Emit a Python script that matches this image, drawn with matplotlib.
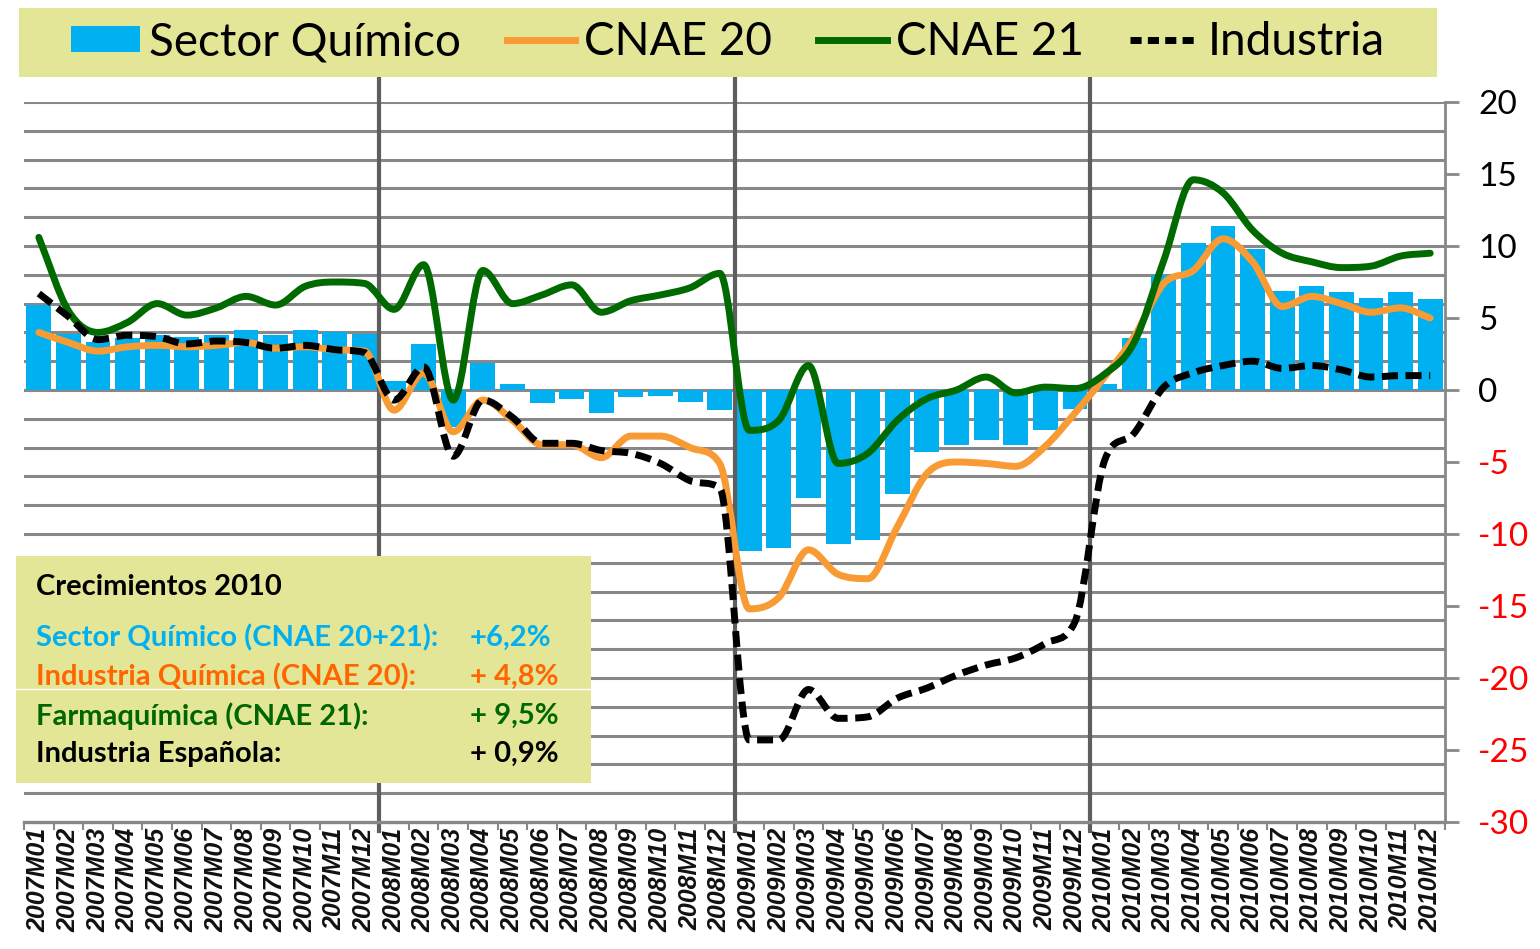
import matplotlib
matplotlib.use('Agg')
import matplotlib.pyplot as plt
from matplotlib.path import Path
from matplotlib.patches import PathPatch, Rectangle, Patch
from matplotlib.lines import Line2D
import numpy as np

# datos (tasas de variación interanual, %)
meses = [f"{a}M{m:02d}" for a in (2007, 2008, 2009, 2010) for m in range(1, 13)]

sector = [5.9, 3.9, 3.3, 3.6, 3.8, 3.7, 3.8, 4.2, 3.8, 4.2, 4.0, 3.9,
          0.6, 3.2, -2.6, 1.9, 0.4, -0.9, -0.6, -1.6, -0.5, -0.4, -0.8, -1.4,
          -11.2, -11.0, -7.5, -10.7, -10.4, -7.2, -4.3, -3.8, -3.5, -3.8, -2.8, -1.3,
          0.4, 3.6, 8.0, 10.2, 11.4, 9.8, 6.9, 7.2, 6.8, 6.4, 6.8, 6.3]

cnae20 = [4.0, 3.3, 2.7, 3.0, 3.1, 3.0, 3.1, 3.3, 2.9, 3.0, 2.8, 2.7,
          -1.4, 1.2, -2.9, -0.7, -2.1, -3.8, -3.8, -4.7, -3.2, -3.2, -4.0, -5.1,
          -15.2, -14.4, -11.1, -12.8, -13.1, -9.5, -5.8, -5.0, -5.1, -5.3, -3.9, -1.6,
          0.9, 3.7, 7.4, 8.3, 10.5, 8.9, 5.8, 6.5, 6.0, 5.4, 5.7, 5.0]

cnae21 = [10.6, 5.5, 4.0, 4.7, 6.0, 5.2, 5.7, 6.5, 5.9, 7.2, 7.5, 7.4,
          5.6, 8.7, -0.7, 8.3, 6.0, 6.6, 7.3, 5.4, 6.2, 6.6, 7.1, 8.1,
          -2.8, -2.1, 1.7, -5.1, -4.4, -2.1, -0.6, 0.0, 0.9, -0.2, 0.2, 0.1,
          1.1, 3.3, 9.0, 14.6, 13.7, 11.1, 9.5, 8.9, 8.5, 8.6, 9.3, 9.5]

industria = [6.7, 5.1, 3.5, 3.8, 3.7, 3.2, 3.4, 3.3, 2.9, 3.1, 2.8, 2.6,
             -0.7, 1.6, -4.6, -0.7, -1.9, -3.7, -3.7, -4.2, -4.4, -5.1, -6.3, -6.8,
             -24.3, -24.3, -20.8, -22.8, -22.7, -21.4, -20.7, -19.8, -19.1, -18.6, -17.6, -16.1,
             -4.9, -3.0, 0.2, 1.2, 1.7, 2.0, 1.5, 1.7, 1.4, 0.9, 1.0, 1.0]

titulo_caja = "Crecimientos 2010"
textos_caja = ["Sector Químico (CNAE 20+21):", "Industria Química (CNAE 20):",
               "Farmaquímica (CNAE 21):", "Industria Española:"]
valores_caja = ["+6,2%", "+ 4,8%", "+ 9,5%", "+ 0,9%"]
colores_caja = ["#00B0F0", "#FF6600", "#006600", "black"]

AZUL = "#00B0F0"
NARANJA = "#F99B35"
VERDE = "#006A00"
AMARILLO = "#E3E697"
GRIS = "#888888"

W, H = 1540, 949


def fx(p):
    return p / W


def fy(p):
    return 1 - p / H


def curva(xs, ys):
    # línea suavizada: tangentes de Catmull-Rom limitadas para no pasarse en los picos
    xs = np.asarray(xs, float)
    ys = np.asarray(ys, float)
    n = len(ys)
    d = np.diff(ys)
    m = np.zeros(n)
    m[0], m[-1] = d[0], d[-1]
    for i in range(1, n - 1):
        if d[i - 1] * d[i] <= 0:
            m[i] = 0.0
        else:
            t = (d[i - 1] + d[i]) / 2
            lim = 3 * min(abs(d[i - 1]), abs(d[i]))
            m[i] = np.sign(t) * min(abs(t), lim)
    verts = [(xs[0], ys[0])]
    codes = [Path.MOVETO]
    for i in range(n - 1):
        h = xs[i + 1] - xs[i]
        verts += [(xs[i] + h / 3, ys[i] + m[i] / 3),
                  (xs[i + 1] - h / 3, ys[i + 1] - m[i + 1] / 3),
                  (xs[i + 1], ys[i + 1])]
        codes += [Path.CURVE4] * 3
    return Path(verts, codes)


fig = plt.figure(figsize=(W / 100, H / 100), dpi=100)
ax = fig.add_axes([fx(24), fy(822), fx(1445) - fx(24), fy(102) - fy(822)])

x = np.arange(len(meses))
ax.set_xlim(-0.5, len(meses) - 0.5)
ax.set_ylim(-30, 20)

for v in np.arange(-28, 21, 2):
    ax.axhline(v, color=GRIS, lw=2.2, zorder=1)

ax.bar(x, sector, width=0.84, color=AZUL, zorder=2)

for b in [11.5, 23.5, 35.5]:
    ax.plot([b, b], [-30.6, 22.3], color="#5E5E5E", lw=3, clip_on=False, zorder=2.5)

ax.add_patch(PathPatch(curva(x, cnae20), fill=False, ec=NARANJA, lw=5,
                       capstyle='round', joinstyle='round', zorder=3))
ax.add_patch(PathPatch(curva(x, cnae21), fill=False, ec=VERDE, lw=5,
                       capstyle='round', joinstyle='round', zorder=3.1))
ax.add_patch(PathPatch(curva(x, industria), fill=False, ec="black", lw=5,
                       ls=(0, (2.3, 1.1)), capstyle='butt', zorder=3.2))

# ejes
for s in ['left', 'top']:
    ax.spines[s].set_visible(False)
ax.spines['right'].set_color(GRIS)
ax.spines['right'].set_linewidth(2)
ax.spines['bottom'].set_color(GRIS)
ax.spines['bottom'].set_linewidth(2.4)

ax.yaxis.tick_right()
ax.set_yticks(np.arange(-30, 21, 5))
ax.set_yticklabels([str(v) for v in range(-30, 21, 5)], fontsize=24, family='Lato')
for lab, v in zip(ax.get_yticklabels(), range(-30, 21, 5)):
    lab.set_color('red' if v < 0 else 'black')
ax.tick_params(axis='y', which='major', length=10, width=2, color=GRIS, pad=14)

ax.set_xticks(x)
ax.set_xticklabels(meses, rotation=90, fontsize=18, fontweight='bold', style='italic',
                   family='Liberation Sans', color='#111111')
ax.set_xticks(np.arange(-0.5, len(meses), 1), minor=True)
ax.tick_params(axis='x', which='major', length=0, pad=4)
ax.tick_params(axis='x', which='minor', length=6, width=1.5, color=GRIS)

# leyenda superior
fig.patches.append(Rectangle((fx(19), fy(77)), fx(1437) - fx(19), fy(8) - fy(77),
                             transform=fig.transFigure, fc=AMARILLO, ec='none', zorder=1))
handles = [Patch(fc=AZUL, ec='none'),
           Line2D([], [], color=NARANJA, lw=5),
           Line2D([], [], color=VERDE, lw=5),
           Line2D([], [], color='black', lw=5, ls=(0, (1.6, 0.9)))]
fig.legend(handles, ["Sector Químico", "CNAE 20", "CNAE 21", "Industria"], ncol=4,
           loc='center', bbox_to_anchor=(fx(728), fy(42)), frameon=False,
           prop={'family': 'Lato', 'size': 33}, handlelength=1.5, handleheight=0.5,
           handletextpad=0.2, columnspacing=1.0)

# caja de crecimientos
fig.patches.append(Rectangle((fx(16), fy(783)), fx(591) - fx(16), fy(556) - fy(783),
                             transform=fig.transFigure, fc=AMARILLO, ec='none', zorder=3))
fig.lines.append(Line2D([fx(16), fx(591)], [fy(689), fy(689)], transform=fig.transFigure,
                        color='white', lw=1, zorder=3.5))
fig.text(fx(36), fy(587), titulo_caja, fontsize=21, fontweight='bold', family='Lato',
         va='center', ha='left', zorder=4)
for i, (t, v, c) in enumerate(zip(textos_caja, valores_caja, colores_caja)):
    yy = [638, 677, 716, 754][i]
    fig.text(fx(36), fy(yy), t, fontsize=21, fontweight='bold', family='Lato',
             color=c, va='center', ha='left', zorder=4)
    fig.text(fx(470), fy(yy), v, fontsize=21, fontweight='bold', family='Lato',
             color=c, va='center', ha='left', zorder=4)

fig.savefig('out.png', dpi=100)
